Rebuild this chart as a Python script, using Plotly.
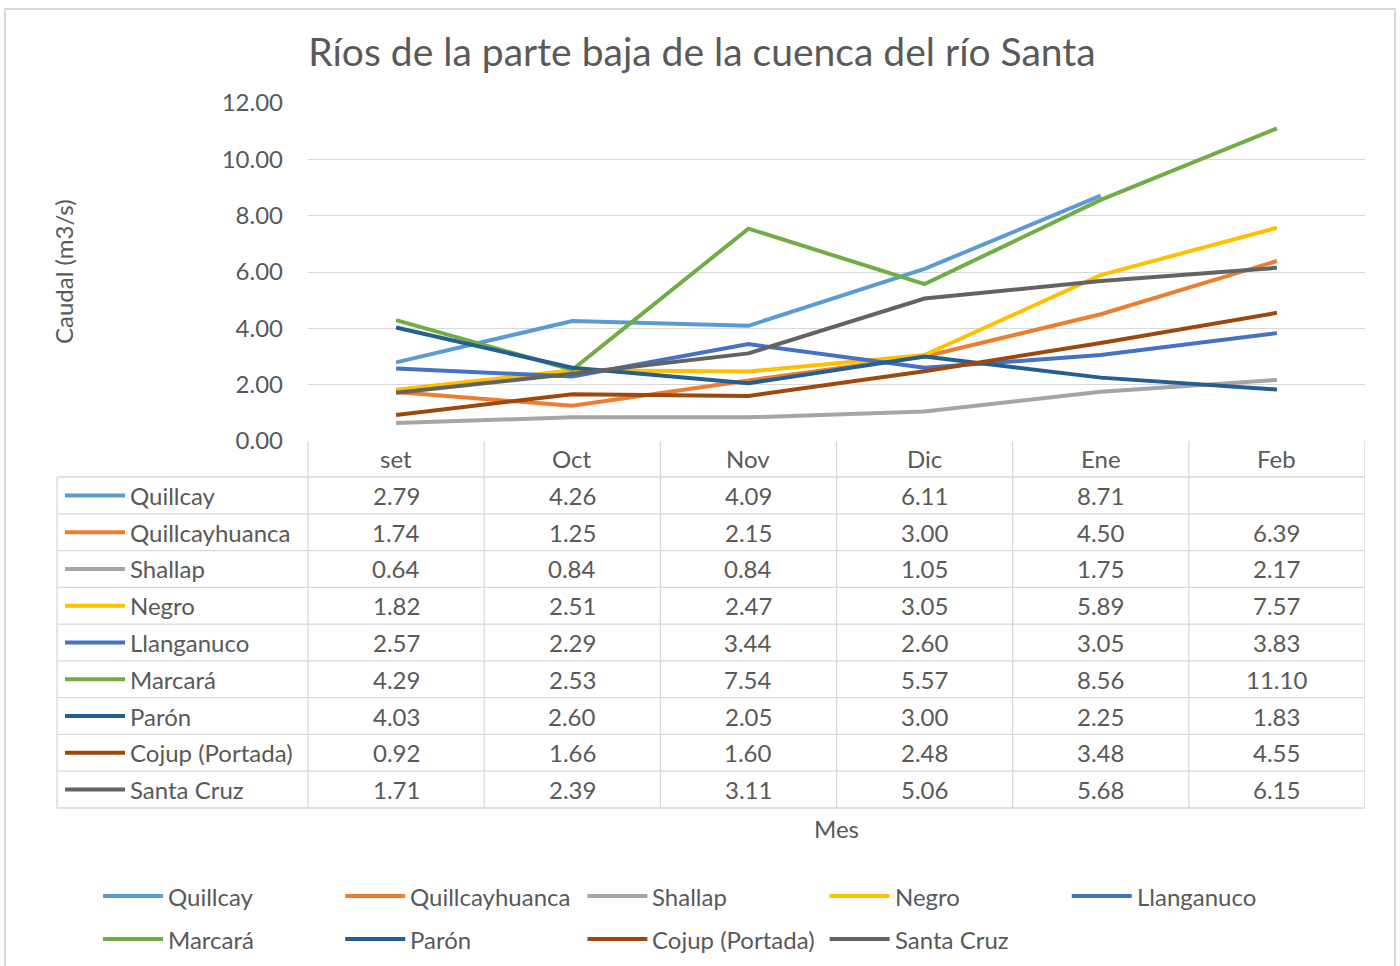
import plotly.graph_objects as go

# Caudal mensual (m3/s), ríos de la parte baja de la cuenca del río Santa
months = ["set", "Oct", "Nov", "Dic", "Ene", "Feb"]
rivers = ["Quillcay", "Quillcayhuanca", "Shallap", "Negro", "Llanganuco",
          "Marcará", "Parón", "Cojup (Portada)", "Santa Cruz"]

quillcay = [2.79, 4.26, 4.09, 6.11, 8.71, None]
quillcayhuanca = [1.74, 1.25, 2.15, 3.00, 4.50, 6.39]
shallap = [0.64, 0.84, 0.84, 1.05, 1.75, 2.17]
negro = [1.82, 2.51, 2.47, 3.05, 5.89, 7.57]
llanganuco = [2.57, 2.29, 3.44, 2.60, 3.05, 3.83]
marcara = [4.29, 2.53, 7.54, 5.57, 8.56, 11.10]
paron = [4.03, 2.60, 2.05, 3.00, 2.25, 1.83]
cojup = [0.92, 1.66, 1.60, 2.48, 3.48, 4.55]
santa_cruz = [1.71, 2.39, 3.11, 5.06, 5.68, 6.15]

series = [quillcay, quillcayhuanca, shallap, negro, llanganuco,
          marcara, paron, cojup, santa_cruz]
colors = ["#5B9BD5", "#ED7D31", "#A5A5A5", "#FFC000", "#4472C4",
          "#70AD47", "#255E91", "#9E480E", "#636363"]

W, H = 1400, 966
FONT = "Lato"
TXT = "#595959"
GRID = "#d9d9d9"
FS = 24


# screen pixel -> paper fraction (body margin is removed in the page)
def px(x):
    return x / W


def py(y):
    return 1 - y / H


def label(x, y, text, xref="paper", xanchor="center", size=FS, angle=0):
    return dict(x=x, y=y, xref=xref, yref="paper", text=text, showarrow=False,
                xanchor=xanchor, yanchor="middle", textangle=angle,
                font=dict(size=size, color=TXT))


fig = go.Figure()
for name, vals, col in zip(rivers, series, colors):
    fig.add_trace(go.Scatter(x=months, y=vals, name=name, mode="lines",
                             line=dict(color=col, width=4), connectgaps=False,
                             showlegend=False))

shapes = []
annotations = []

# outer chart border
shapes.append(dict(type="rect", xref="paper", yref="paper", x0=px(5), x1=px(1395),
                   y0=py(995), y1=py(9), line=dict(color=GRID, width=2)))

# data table under the plot
tab_top, head_bot, tab_bot = 441, 477, 808
row_h = (tab_bot - head_bot) / len(rivers)
line_c = dict(color=GRID, width=1.3)
for i in range(len(rivers) + 1):
    yy = head_bot + i * row_h
    shapes.append(dict(type="line", xref="paper", yref="paper", x0=px(57), x1=px(1365),
                       y0=py(yy), y1=py(yy), line=line_c))
shapes.append(dict(type="line", xref="paper", yref="paper", x0=px(57), x1=px(57),
                   y0=py(head_bot), y1=py(tab_bot), line=line_c))
shapes.append(dict(type="line", xref="paper", yref="paper", x0=px(308), x1=px(308),
                   y0=py(tab_top), y1=py(tab_bot), line=line_c))
for k in range(len(months)):
    shapes.append(dict(type="line", xref="x", yref="paper", x0=k + 0.5, x1=k + 0.5,
                       y0=py(tab_top), y1=py(tab_bot), line=line_c))

for m in months:
    annotations.append(label(m, py((tab_top + head_bot) / 2), m, xref="x"))

for i, (name, vals, col) in enumerate(zip(rivers, series, colors)):
    yc = py(head_bot + (i + 0.5) * row_h)
    shapes.append(dict(type="line", xref="paper", yref="paper", x0=px(65), x1=px(125),
                       y0=yc, y1=yc, line=dict(color=col, width=4)))
    annotations.append(label(px(128), yc, name, xanchor="left"))
    for m, v in zip(months, vals):
        annotations.append(label(m, yc, "" if v is None else f"{v:.2f}", xref="x"))

# axis titles
annotations.append(label(px(836), py(828), "Mes"))
annotations.append(label(px(63), py(272), "Caudal (m3/s)", angle=-90))

# legend at the bottom
for i, (name, col) in enumerate(zip(rivers, colors)):
    x0 = 103 + (i % 5) * 242.2
    yc = py(896 + (i // 5) * 43)
    shapes.append(dict(type="line", xref="paper", yref="paper", x0=px(x0), x1=px(x0 + 60),
                       y0=yc, y1=yc, line=dict(color=col, width=4)))
    annotations.append(label(px(x0 + 63), yc, name, xanchor="left"))

fig.update_layout(
    width=W, height=H,
    margin=dict(l=0, r=0, t=0, b=0, autoexpand=False),
    paper_bgcolor="white", plot_bgcolor="white",
    font=dict(family=FONT, color=TXT, size=FS),
    title=dict(text="Ríos de la parte baja de la cuenca del río Santa",
               x=px(702), xanchor="center", y=py(52), yanchor="middle",
               font=dict(size=39, color=TXT, family=FONT)),
    xaxis=dict(domain=[px(308), px(1365)], range=[-0.5, 5.5], showticklabels=False,
               showgrid=False, zeroline=False, showline=False, automargin=False,
               fixedrange=True),
    yaxis=dict(domain=[py(441), py(103)], range=[0, 12], dtick=2, tickformat=".2f",
               gridcolor=GRID, gridwidth=1.3, zeroline=False, showline=False,
               automargin=False, ticks="", ticklabelstandoff=24,
               tickfont=dict(size=FS, color=TXT)),
    shapes=shapes,
    annotations=annotations,
)

fig.write_html("out.html", config={"displayModeBar": False},
               post_script="document.body.style.margin='0';document.body.style.overflow='hidden';")
